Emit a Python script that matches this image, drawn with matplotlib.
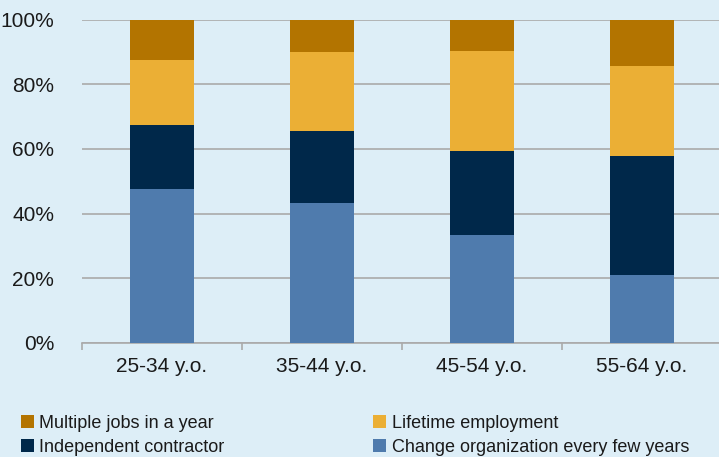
import numpy as np
import matplotlib.pyplot as plt
from matplotlib.patches import Patch

# age groups
groups = ['25-34 y.o.', '35-44 y.o.', '45-54 y.o.', '55-64 y.o.']

# shares, % (bottom to top)
change_org = [47.5, 43.2, 33.3, 20.9]
independent = [19.9, 22.3, 26.2, 37.0]
lifetime = [20.0, 24.4, 30.9, 27.9]
multiple_jobs = [12.6, 10.1, 9.6, 14.2]

labels = ['Change organization every few years', 'Independent contractor',
          'Lifetime employment', 'Multiple jobs in a year']
colors = ['#4f7bad', '#00284a', '#ebaf35', '#b37400']

bg = '#ddeef7'
plt.rcParams['font.family'] = ['Liberation Sans', 'DejaVu Sans']

fig = plt.figure(figsize=(7.19, 4.57), dpi=100, facecolor=bg)
ax = fig.add_axes([82/719, 1 - 343/457, 640/719, 323.4/457])
ax.set_facecolor(bg)

x = np.arange(len(groups))
bottom = np.zeros(len(groups))
for vals, c in zip([change_org, independent, lifetime, multiple_jobs], colors):
    ax.bar(x, vals, width=0.4, bottom=bottom, color=c, zorder=3)
    bottom += np.array(vals)

ax.set_xlim(-0.5, 3.5)
ax.set_ylim(0, 100)
ax.set_yticks(np.arange(0, 101, 20))
ax.set_yticklabels([f'{v}%' for v in range(0, 101, 20)])
ax.yaxis.grid(True, color='#aaaaaa', lw=1.2, zorder=0)
ax.tick_params(axis='y', length=0, pad=20, labelsize=15, labelcolor='#1a1a1a')

ax.set_xticks(x)
ax.set_xticklabels(groups)
ax.set_xticks(np.arange(-0.5, 3.6, 1), minor=True)
ax.tick_params(axis='x', which='major', length=0, pad=10, labelsize=15, labelcolor='#1a1a1a')
ax.tick_params(axis='x', which='minor', length=5, width=1.2, color='#aaaaaa')

for s in ['left', 'right', 'top']:
    ax.spines[s].set_visible(False)
ax.spines['bottom'].set_color('#aaaaaa')
ax.spines['bottom'].set_linewidth(1.2)

# legend: two columns, filled column by column
order = [3, 1, 2, 0]
handles = [Patch(facecolor=colors[i], label=labels[i]) for i in order]
fig.legend(handles=handles, loc='upper left', bbox_to_anchor=(0.016, 1 - 406/457),
           ncol=2, frameon=False, fontsize=13, handlelength=0.75, handleheight=0.75,
           handletextpad=0.3, columnspacing=8.2, labelspacing=0.38, borderpad=0,
           labelcolor='#1a1a1a')

fig.savefig('out.png', dpi=100, facecolor=bg)
